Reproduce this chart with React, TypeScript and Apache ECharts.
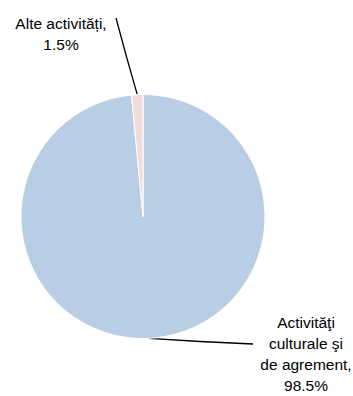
import React, { useEffect, useRef } from "react";
import * as echarts from "echarts";

const categories = ["Activităţi culturale şi de agrement", "Alte activități"];
const labelNames = ["Activităţi\nculturale şi\nde agrement,", "Alte activități,"];
const values = [98.5, 1.5];
const colors = ["#B9CDE5", "#F2DCDB"];

export default function App() {
  const ref = useRef<HTMLDivElement>(null);
  useEffect(() => {
    const chart = echarts.init(ref.current!, null, { renderer: "svg" });
    const cx = 143;
    const cy = 216.5;
    const r = 122;
    chart.setOption({
      animation: false,
      backgroundColor: "#ffffff",
      series: [
        {
          type: "pie",
          center: [cx, cy],
          radius: [0, r],
          startAngle: 90,
          clockwise: true,
          data: categories.map((c, i) => ({
            name: c,
            value: values[i],
            itemStyle: { color: colors[i] },
          })),
          itemStyle: { borderColor: "#ffffff", borderWidth: 1 },
          label: {
            show: true,
            color: "#000000",
            fontFamily: "Liberation Sans, Arial, sans-serif",
            fontSize: 15.5,
            lineHeight: 21,
            align: "center",
            overflow: "none",
            width: 140,
            formatter: (p: any) => `${labelNames[p.dataIndex]}\n${values[p.dataIndex].toFixed(1)}%`,
          },
          labelLine: {
            show: true,
            lineStyle: { color: "#000000", width: 1.3 },
          },
          labelLayout: (params: any) => {
            const start = params.labelLinePoints ? params.labelLinePoints[0] : [cx, cy];
            if (params.dataIndex === 1) {
              return {
                x: 61,
                y: 34,
                align: "center",
                verticalAlign: "middle",
                labelLinePoints: [start, [126, 55], [116, 18]],
              };
            }
            return {
              x: 306,
              y: 354,
              align: "center",
              verticalAlign: "middle",
              labelLinePoints: [start, [200, 341.5], [253, 344]],
            };
          },
        },
      ],
    });
    return () => chart.dispose();
  }, []);
  return (
    <div
      ref={ref}
      style={{ position: "absolute", left: 0, top: 0, width: 353, height: 396 }}
    />
  );
}
